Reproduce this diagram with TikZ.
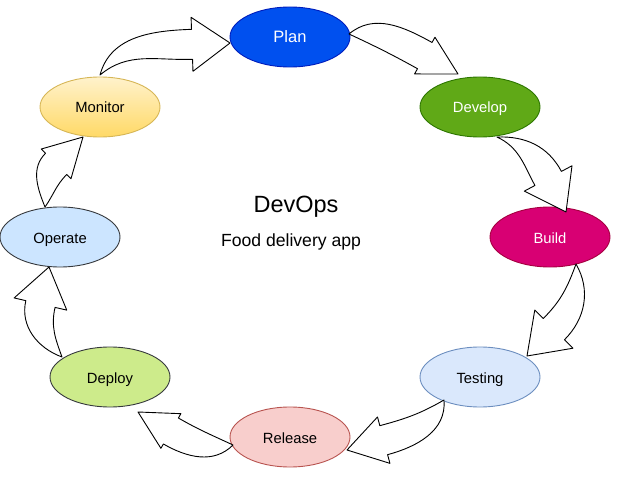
\documentclass[tikz,border=0pt]{standalone}
\usepackage{fontspec}
\setmainfont{Liberation Sans}
\usetikzlibrary{shapes.geometric,calc}

\definecolor{planfill}{HTML}{0050EF}
\definecolor{planline}{HTML}{001DBC}
\definecolor{devfill}{HTML}{60A917}
\definecolor{devline}{HTML}{2D7600}
\definecolor{buildfill}{HTML}{D80073}
\definecolor{buildline}{HTML}{A50040}
\definecolor{testfill}{HTML}{DAE8FC}
\definecolor{testline}{HTML}{6C8EBF}
\definecolor{relfill}{HTML}{F8CECC}
\definecolor{relline}{HTML}{B85450}
\definecolor{depfill}{HTML}{CDEB8B}
\definecolor{opfill}{HTML}{CCE5FF}
\definecolor{darkline}{HTML}{36393D}
\definecolor{montop}{HTML}{FFF2CC}
\definecolor{monbot}{HTML}{FFD966}
\definecolor{monline}{HTML}{D6B656}

% hollow curved arrow: tail, tip, heading at tip, out angle of left edge,
% out angle of right edge, half width of the head
\newcommand{\flexarrow}[6]{%
	\coordinate (fa-tail) at (#1);
	\coordinate (fa-tip) at (#2);
	\draw[flex] (fa-tail) to[out=#4,in=#3+180] ($(fa-tip)+(#3+180:38)+(#3+90:15)$)
	-- ($(fa-tip)+(#3+180:38)+(#3+90:#6)$) -- (fa-tip)
	-- ($(fa-tip)+(#3+180:38)+(#3-90:#6)$)
	-- ($(fa-tip)+(#3+180:38)+(#3-90:15)$) to[out=#3+180,in=#5] (fa-tail) -- cycle;
}

\begin{document}
\begin{tikzpicture}[x=1pt,y=1pt,
	stage/.style={ellipse,draw,line width=0.9pt,minimum width=120pt,minimum height=60pt,
		inner sep=0pt,text height=12pt,text depth=0pt,font=\fontsize{14.8}{17}\selectfont},
	flex/.style={draw=black,fill=white,line width=0.9pt,line join=round}]
\useasboundingbox (0,0) rectangle (618,480);

%========================================
% Stages of the cycle
%========================================
\node[stage,fill=planfill,draw=planline,text=white,font=\fontsize{16.5}{19}\selectfont] (plan) at (290,443) {Plan};
\node[stage,fill=devfill,draw=devline,text=white] (develop) at (480,373) {Develop};
\node[stage,fill=buildfill,draw=buildline,text=white] (build) at (550,243) {Build};
\node[stage,fill=testfill,draw=testline] (testing) at (480,103) {Testing};
\node[stage,fill=relfill,draw=relline] (release) at (290,43) {Release};
\node[stage,fill=depfill,draw=darkline] (deploy) at (110,103) {Deploy};
\node[stage,fill=opfill,draw=darkline] (operate) at (60,243) {Operate};
\node[stage,top color=montop,bottom color=monbot,draw=monline] (monitor) at (100,373) {Monitor};

% Title in the middle
\node[font=\fontsize{23.5}{27}\selectfont] (title) at (296,273) {DevOps};
\node[font=\fontsize{17.6}{21}\selectfont] (subtitle) at (291,238) {Food delivery app};

%========================================
% Arrows between the stages
%========================================
\flexarrow{$(monitor)+(0,32)$}{$(plan)+(-60,-6)$}{2}{75}{40}{27}
\flexarrow{$(plan)+(59,3)$}{$(develop)+(-22,33)$}{-29}{40}{-25}{21}
\flexarrow{$(develop)+(17,-30)$}{$(build)+(16,25)$}{-62}{2}{-25}{27}
\flexarrow{$(build)+(26,-27)$}{$(testing)+(47,21)$}{225}{-60}{-110}{27}
\flexarrow{$(testing)+(-36,-23)$}{$(release)+(57,-13)$}{195}{-85}{210}{24}
\flexarrow{$(release)+(-57,-8)$}{$(deploy)+(28,-35)$}{150}{225}{155}{20}
\flexarrow{$(deploy)+(-48,20)$}{$(operate)+(-11,-30)$}{77}{160}{110}{27}
\flexarrow{$(operate)+(-15,30)$}{$(monitor)+(-17,-30)$}{45}{112}{55}{21}
\end{tikzpicture}
\end{document}
